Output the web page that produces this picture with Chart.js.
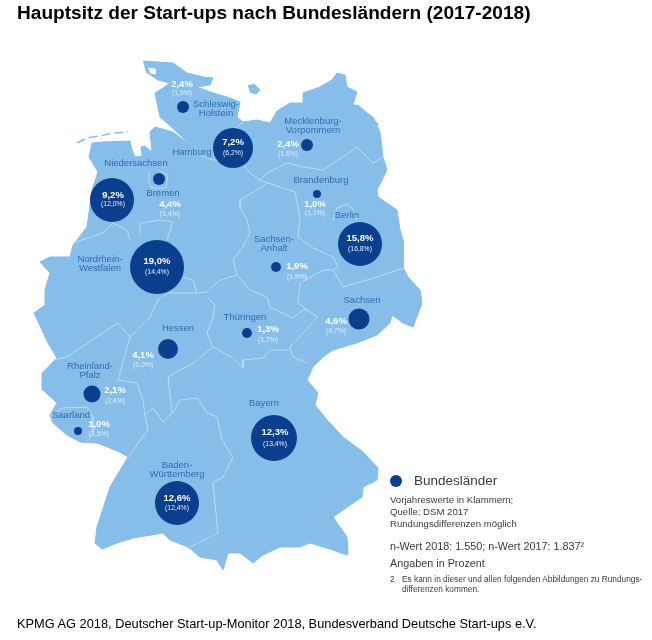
<!DOCTYPE html>
<html lang="de">
<head>
<meta charset="utf-8">
<title>Hauptsitz der Start-ups nach Bundesländern</title>
<script src="https://cdn.jsdelivr.net/npm/chart.js@4"></script>
<style>
    html, body { margin: 0; padding: 0; background: #fff; }
    #page { position: relative; width: 652px; height: 640px; overflow: hidden; font-family: "Liberation Sans", Arial, sans-serif; }
    #map { position: absolute; left: 0; top: 0; filter: blur(0.35px); }
    .t { position: absolute; white-space: nowrap; line-height: 1; color: #3c3c3c; }
    #title { left: 17px; top: 3px; font-size: 19.1px; font-weight: bold; color: #000; }
    #source { left: 17px; top: 618px; font-size: 12.8px; color: #000; }
    #legend-name { left: 414px; top: 474px; font-size: 13.5px; }
    .note { left: 390px; font-size: 9.6px; }
    .big { left: 390px; font-size: 10.8px; }
    .foot { font-size: 8.3px; }
</style>
</head>
<body>
<div id="page">
    <canvas id="map" width="652" height="640"></canvas>
    <div class="t" id="title">Hauptsitz der Start-ups nach Bundesländern (2017-2018)</div>
    <div class="t" id="legend-name">Bundesländer</div>
    <div class="t note" style="top:495px">Vorjahreswerte in Klammern;</div>
    <div class="t note" style="top:507px">Quelle: DSM 2017</div>
    <div class="t note" style="top:519px">Rundungsdifferenzen möglich</div>
    <div class="t big" style="top:541px">n-Wert 2018: 1.550; n-Wert 2017: 1.837²</div>
    <div class="t big" style="top:558px">Angaben in Prozent</div>
    <div class="t foot" style="left:390px;top:575px">2</div>
    <div class="t foot" style="left:402px;top:575px">Es kann in dieser und allen folgenden Abbildungen zu Rundungs-</div>
    <div class="t foot" style="left:402px;top:585px">differenzen kommen.</div>
    <div class="t" id="source">KPMG AG 2018, Deutscher Start-up-Monitor 2018, Bundesverband Deutsche Start-ups e.V.</div>
</div>
<script>
// Werte je Bundesland
const states = ['Schleswig-Holstein', 'Hamburg', 'Mecklenburg-Vorpommern', 'Niedersachsen', 'Bremen', 'Brandenburg', 'Berlin', 'Nordrhein-Westfalen', 'Sachsen-Anhalt', 'Sachsen', 'Thüringen', 'Hessen', 'Rheinland-Pfalz', 'Saarland', 'Bayern', 'Baden-Württemberg'];
const share2018 = [2.4, 7.2, 2.4, 9.2, 4.4, 1.0, 15.8, 19.0, 1.9, 4.6, 1.3, 4.1, 2.1, 1.0, 12.3, 12.6];
const share2017 = [1.9, 6.2, 1.6, 12.0, 1.4, 1.1, 16.8, 14.4, 1.9, 4.7, 1.7, 6.0, 2.4, 1.5, 13.4, 12.4];
const bubbleX = [183, 233, 307, 112, 159, 317, 360, 157, 276, 359, 247, 168, 92, 78, 274, 177];
const bubbleY = [107, 148, 145, 200, 179, 194, 244, 267, 267, 319, 333, 349, 394, 431, 438, 503];
const bubbleR = [6, 20, 6, 22, 6, 4, 22, 27, 5, 10.5, 5, 10, 8.5, 4, 23, 22];

// Position der Beschriftungen auf der Karte
const nameLines = [['Schleswig-', 'Holstein'], ['Hamburg'], ['Mecklenburg-', 'Vorpommern'], ['Niedersachsen'], ['Bremen'], ['Brandenburg'], ['Berlin'], ['Nordrhein-', 'Westfalen'], ['Sachsen-', 'Anhalt'], ['Sachsen'], ['Thüringen'], ['Hessen'], ['Rheinland-', 'Pfalz'], ['Saarland'], ['Bayern'], ['Baden-', 'Württemberg']];
const nameX = [216, 192, 313, 136, 163, 321, 347, 100, 274, 362, 245, 178, 90, 71, 264, 177];
const nameY = [104, 152, 121, 163, 193, 180, 215, 259, 239, 300, 317, 328, 366, 415, 403, 465];
const valueX = [182, 233, 288, 113, 170, 315, 360, 157, 297, 336, 268, 143, 115, 99, 275, 177];
const valueY = [84, 142, 144, 195, 204, 204, 238, 261, 266, 321, 329, 355, 390, 424, 432, 498];
const prevY = [93, 153, 154, 204, 214, 213, 249, 272, 277, 331, 340, 365, 401, 434, 444, 508];

const germanyOutline = [[143,61],[173,63],[187,73],[203,77],[213,78],[210,85],[197,87],[213,93],[227,97],[240,102],[237,117],[243,122],[257,120],[270,123],[277,111],[290,103],[303,103],[303,93],[320,87],[332,80],[337,73],[345,75],[347,87],[357,92],[353,104],[373,117],[380,132],[383,157],[387,170],[377,190],[378,197],[397,210],[400,230],[403,240],[403,267],[408,277],[420,290],[422,303],[413,327],[403,323],[392,315],[390,323],[377,335],[357,343],[333,350],[323,357],[313,367],[307,380],[318,393],[315,405],[327,420],[343,437],[363,452],[378,468],[377,480],[363,487],[362,497],[333,517],[347,537],[348,555],[340,553],[333,550],[310,543],[300,547],[280,547],[263,555],[253,563],[240,553],[228,553],[223,570],[217,560],[200,557],[188,547],[170,540],[163,533],[133,538],[117,543],[102,549],[95,543],[97,527],[110,487],[128,457],[120,452],[97,443],[80,442],[67,435],[53,423],[50,415],[57,403],[43,390],[42,373],[50,365],[57,358],[48,343],[34,313],[45,305],[45,290],[50,273],[40,262],[50,257],[70,257],[73,245],[87,227],[92,190],[98,172],[89,157],[92,143],[103,142],[130,141],[132,150],[135,157],[142,156],[141,147],[145,146],[152,152],[150,132],[155,127],[173,132],[193,147],[167,123],[160,117],[157,103],[155,93],[163,88],[170,83],[158,80],[146,72]];
const islandRuegen = [[350,107],[358,105],[366,112],[378,124],[376,131],[366,124],[358,118]];
const islandFehmarn = [[248,86],[254,84],[260,90],[256,94],[250,92]];
const islandsNorthSea = [[77,143],[87,138],[100,136],[113,133],[128,132]];
const holeSylt = [[148,68],[155,69],[155,74],[150,73]];
const stateBorders = [
    [[243,122],[233,130],[215,140]],
    [[193,147],[200,155],[213,160],[240,160],[250,173],[260,180],[268,183],[295,192]],
    [[260,180],[267,173],[287,163],[303,167],[323,170],[343,157],[357,147],[367,157],[373,163],[383,157]],
    [[268,183],[240,200],[240,207],[247,220],[250,233],[243,247],[233,260],[237,275],[220,280],[207,292],[197,293],[193,280],[183,277]],
    [[295,192],[300,217],[298,237],[313,248],[333,257],[338,267],[333,270],[323,270],[300,283],[298,303],[307,310]],
    [[237,275],[250,290],[267,297],[270,307],[293,318],[303,310],[307,310],[318,317],[303,333],[290,347],[293,357],[307,363]],
    [[333,270],[343,287],[377,277],[403,268]],
    [[333,220],[337,208],[347,204],[352,208],[357,220]],
    [[290,350],[270,350],[263,358],[243,360],[243,368],[233,358],[213,347],[193,363],[168,377],[172,413],[163,422],[153,408],[145,415],[143,400],[137,383],[118,380],[130,337],[118,323],[107,330],[67,357],[53,360]],
    [[213,347],[207,333],[213,317],[215,305],[207,297]],
    [[130,337],[150,317],[158,300],[168,293],[197,293]],
    [[173,413],[180,400],[197,398],[207,413],[217,417],[222,440],[233,457],[223,477],[213,483],[218,533],[190,547]],
    [[145,415],[148,430],[128,457]],
    [[50,415],[63,408],[87,407],[93,417],[93,433],[87,442]],
    [[73,243],[103,233],[113,223],[127,230],[130,240]],
    [[140,235],[140,223],[160,220],[173,222],[167,240]],
    [[150,172],[148,180],[152,188],[166,188],[168,175],[158,170]]
];

const legendPoint = [{ x: 396, y: 481, r: 6 }];

const LAND = '#87bde9';
const DARK = '#0a3f8d';
const toPoints = (pairs) => pairs.map(([x, y]) => ({ x, y }));
const comma = (v) => v.toFixed(1).replace('.', ',') + '%';

function areaDataset(pairs, color, order) {
    return { type: 'line', data: toPoints(pairs), fill: 'shape', backgroundColor: color, borderColor: color, borderWidth: 1, pointRadius: 0, tension: 0, order };
}

const datasets = [
    {
        type: 'bubble',
        label: 'Bundesländer',
        data: states.map((s, i) => ({ x: bubbleX[i], y: bubbleY[i], r: bubbleR[i] })),
        backgroundColor: DARK,
        borderWidth: 0,
        order: 1
    },
    { type: 'bubble', label: 'Legende', data: legendPoint, backgroundColor: DARK, borderWidth: 0, order: 1 },
    areaDataset(germanyOutline, LAND, 5),
    areaDataset(islandRuegen, LAND, 5),
    areaDataset(islandFehmarn, LAND, 5),
    areaDataset(holeSylt, '#ffffff', 4),
    { type: 'line', data: toPoints(islandsNorthSea), borderColor: LAND, borderWidth: 1.5, borderDash: [9, 4], pointRadius: 0, fill: false, order: 4 }
];
stateBorders.forEach((border) => {
    datasets.push({ type: 'line', data: toPoints(border), borderColor: '#c0dcf4', borderWidth: 1, pointRadius: 0, fill: false, tension: 0, order: 3 });
});

// Beschriftung der Bundesländer auf die Karte schreiben
const mapLabels = {
    id: 'mapLabels',
    afterDatasetsDraw(chart) {
        const { ctx, scales: { x, y } } = chart;
        ctx.save();
        ctx.textAlign = 'center';
        ctx.textBaseline = 'middle';
        states.forEach((s, i) => {
            ctx.font = '9.5px "Liberation Sans", Arial, sans-serif';
            ctx.fillStyle = '#2f6cb2';
            nameLines[i].forEach((line, n) => {
                ctx.fillText(line, x.getPixelForValue(nameX[i]), y.getPixelForValue(nameY[i] + n * 9.7));
            });
            ctx.fillStyle = '#ffffff';
            ctx.font = 'bold 9.5px "Liberation Sans", Arial, sans-serif';
            ctx.fillText(comma(share2018[i]), x.getPixelForValue(valueX[i]), y.getPixelForValue(valueY[i]));
            ctx.fillStyle = '#e3effa';
            ctx.font = '6.8px "Liberation Sans", Arial, sans-serif';
            ctx.fillText('(' + comma(share2017[i]) + ')', x.getPixelForValue(valueX[i]), y.getPixelForValue(prevY[i]));
        });
        ctx.restore();
    }
};

new Chart(document.getElementById('map').getContext('2d'), {
    type: 'bubble',
    data: { datasets },
    plugins: [mapLabels],
    options: {
        responsive: false,
        animation: false,
        events: [],
        layout: { padding: 0, autoPadding: false },
        clip: false,
        scales: {
            x: { type: 'linear', min: 0, max: 652, display: false },
            y: { type: 'linear', min: 0, max: 640, reverse: true, display: false }
        },
        plugins: { legend: { display: false }, tooltip: { enabled: false }, title: { display: false } }
    }
});
</script>
</body>
</html>
